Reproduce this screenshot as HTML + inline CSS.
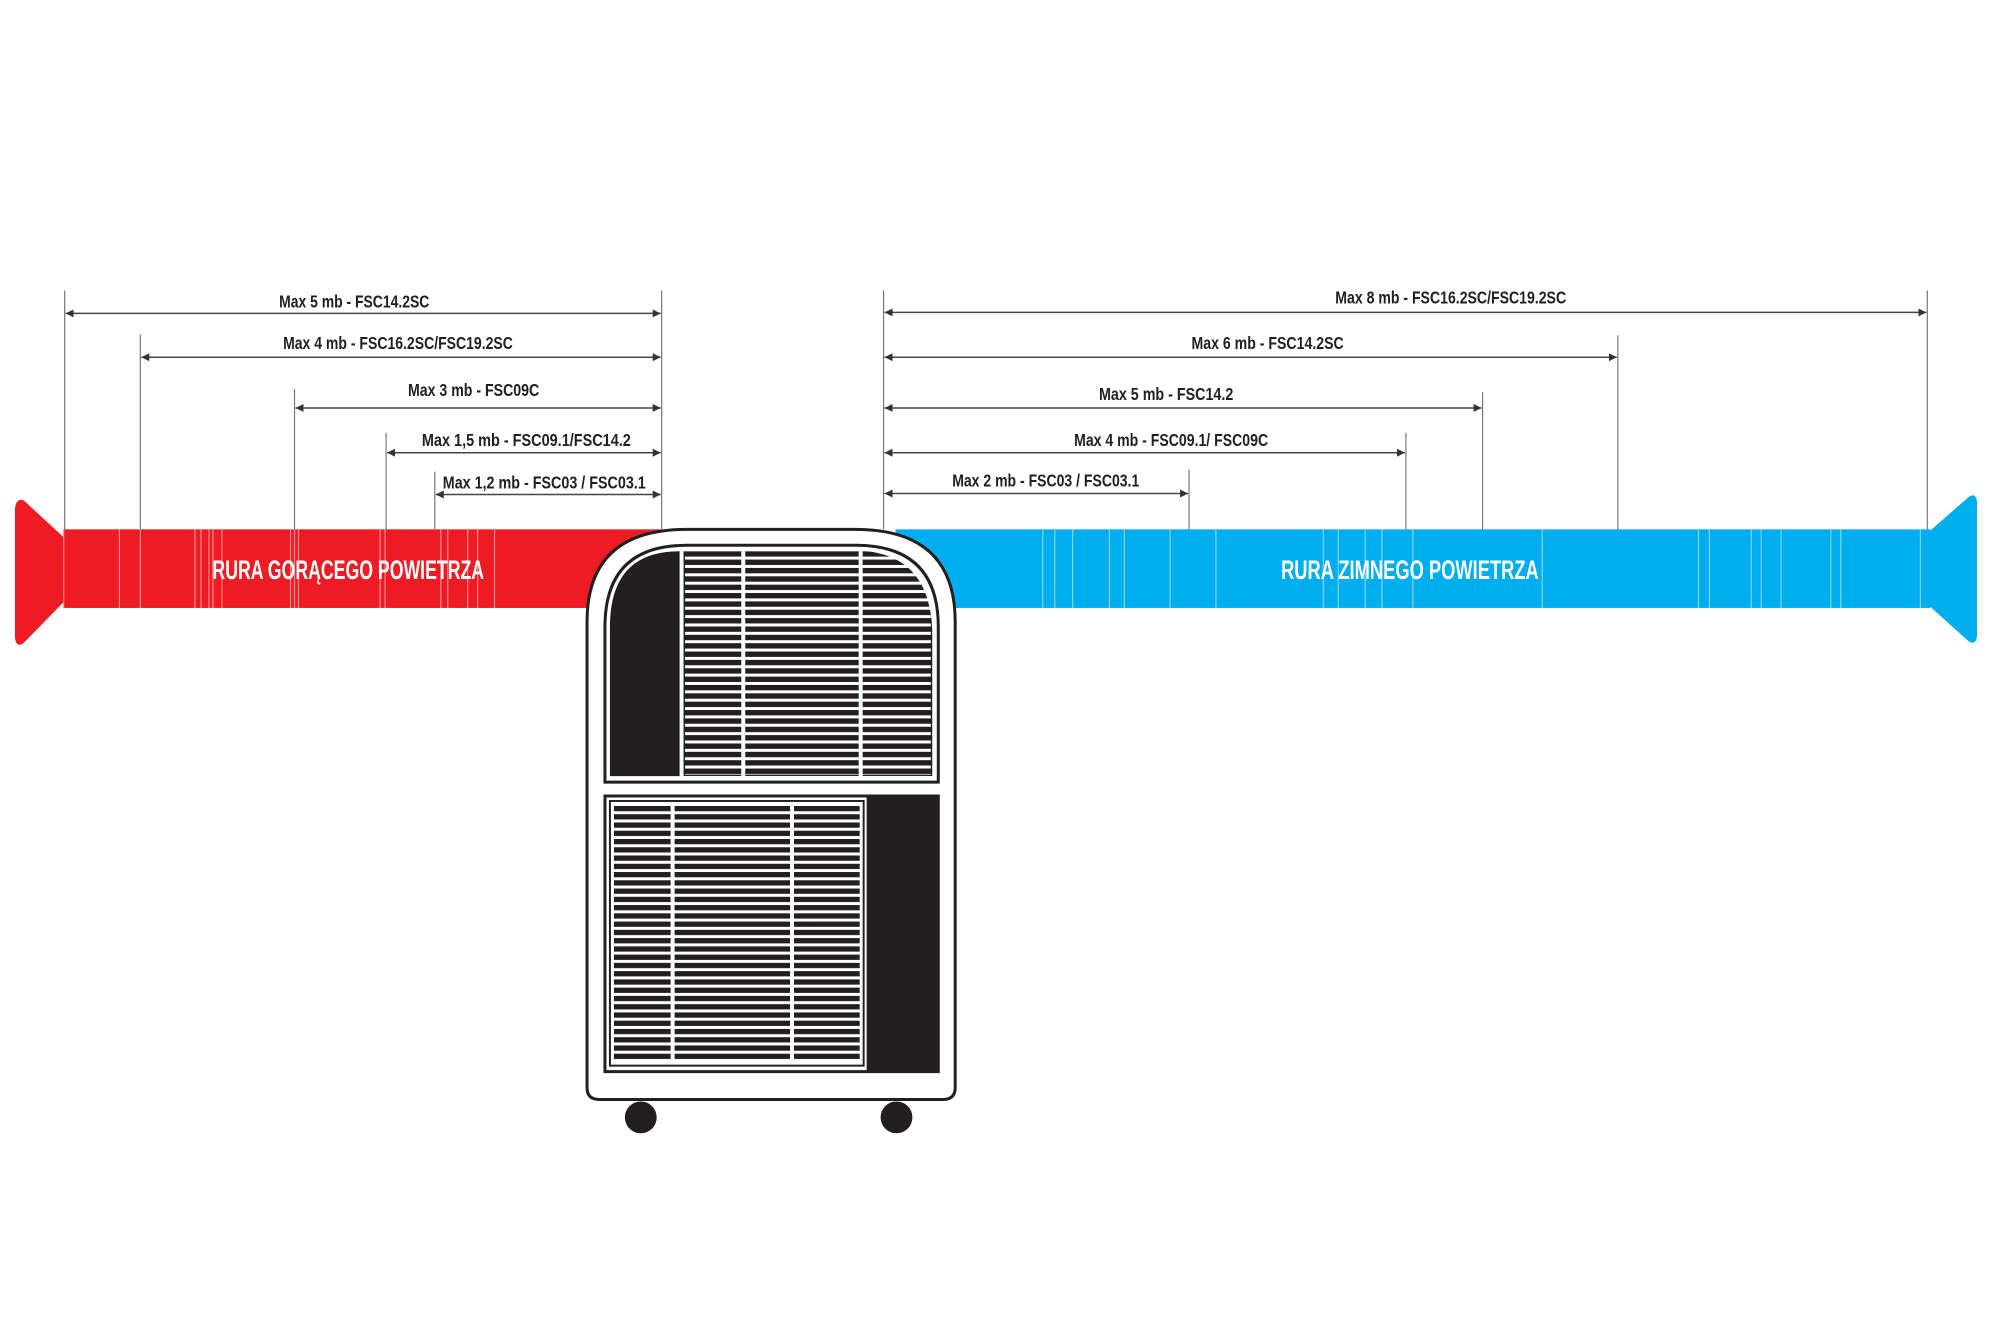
<!DOCTYPE html>
<html><head><meta charset="utf-8"><style>
html,body{margin:0;padding:0;background:#fff;width:2000px;height:1333px;overflow:hidden}
svg{display:block}
.t{font-family:"Liberation Sans",sans-serif;font-size:18px;font-weight:bold;fill:#231f20}
.p{font-family:"Liberation Sans",sans-serif;font-size:27px;font-weight:bold;fill:#fff}
</style></head><body>
<svg width="2000" height="1333" viewBox="0 0 2000 1333" xmlns="http://www.w3.org/2000/svg">
<defs>
<marker id="a" viewBox="0 0 10 10" refX="10" refY="5" markerWidth="8" markerHeight="8" orient="auto-start-reverse" markerUnits="userSpaceOnUse"><path d="M0,0 L10,5 L0,10 z" fill="#333"/></marker>
<pattern id="st" x="0" y="554" width="10" height="8.4" patternUnits="userSpaceOnUse"><rect width="10" height="5.4" fill="#231f20"/></pattern>
<pattern id="st2" x="0" y="810" width="10" height="8.3" patternUnits="userSpaceOnUse"><rect width="10" height="5.3" fill="#231f20"/></pattern>
<clipPath id="tc"><path d="M687,780 V554 H870 Q937,560 937,640 V780 Z"/></clipPath>
</defs>
<g transform="scale(0.995)">
<!-- red pipe -->
<path d="M15,512 Q16,500 24,503 L64,540 V605 L24,646 Q16,652 15,640 Z" fill="#ed1c24"/>
<rect x="64" y="532" width="600" height="79" fill="#ed1c24"/>
<g stroke="#ff8a8a" stroke-width="1.2">
<line x1="64" y1="532" x2="64" y2="611"/><line x1="120" y1="532" x2="120" y2="611"/><line x1="141" y1="532" x2="141" y2="611"/>
<line x1="196" y1="532" x2="196" y2="611"/><line x1="202" y1="532" x2="202" y2="611"/><line x1="210" y1="532" x2="210" y2="611"/>
<line x1="214" y1="532" x2="214" y2="611"/><line x1="223" y1="532" x2="223" y2="611"/><line x1="292" y1="532" x2="292" y2="611"/>
<line x1="296" y1="532" x2="296" y2="611"/><line x1="300" y1="532" x2="300" y2="611"/><line x1="382" y1="532" x2="382" y2="611"/>
<line x1="387" y1="532" x2="387" y2="611"/><line x1="443" y1="532" x2="443" y2="611"/><line x1="450" y1="532" x2="450" y2="611"/>
<line x1="470" y1="532" x2="470" y2="611"/><line x1="480" y1="532" x2="480" y2="611"/><line x1="497" y1="532" x2="497" y2="611"/>
</g>
<text class="p" x="350" y="582" text-anchor="middle" textLength="273" lengthAdjust="spacingAndGlyphs">RURA GORĄCEGO POWIETRZA</text>
<!-- blue pipe -->
<rect x="900" y="532" width="1040" height="79" fill="#00adef"/>
<path d="M1987,505 Q1986,494 1978,500 L1938,535 V608 L1978,644 Q1986,650 1987,638 Z" fill="#00adef"/>
<g stroke="#7fd6f7" stroke-width="1.2">
<line x1="1048" y1="532" x2="1048" y2="611"/><line x1="1060" y1="532" x2="1060" y2="611"/><line x1="1078" y1="532" x2="1078" y2="611"/>
<line x1="1115" y1="532" x2="1115" y2="611"/><line x1="1130" y1="532" x2="1130" y2="611"/><line x1="1176" y1="532" x2="1176" y2="611"/>
<line x1="1222" y1="532" x2="1222" y2="611"/><line x1="1330" y1="532" x2="1330" y2="611"/><line x1="1345" y1="532" x2="1345" y2="611"/>
<line x1="1372" y1="532" x2="1372" y2="611"/><line x1="1389" y1="532" x2="1389" y2="611"/><line x1="1420" y1="532" x2="1420" y2="611"/>
<line x1="1550" y1="532" x2="1550" y2="611"/><line x1="1707" y1="532" x2="1707" y2="611"/><line x1="1718" y1="532" x2="1718" y2="611"/>
<line x1="1760" y1="532" x2="1760" y2="611"/><line x1="1770" y1="532" x2="1770" y2="611"/><line x1="1790" y1="532" x2="1790" y2="611"/>
<line x1="1840" y1="532" x2="1840" y2="611"/><line x1="1850" y1="532" x2="1850" y2="611"/><line x1="1930" y1="532" x2="1930" y2="611"/>
</g>
<text class="p" x="1417" y="582" text-anchor="middle" textLength="259" lengthAdjust="spacingAndGlyphs">RURA ZIMNEGO POWIETRZA</text>
<!-- extension lines -->
<g stroke="#777" stroke-width="1.2">
<line x1="65" y1="292" x2="65" y2="532"/><line x1="141" y1="336" x2="141" y2="532"/><line x1="296" y1="391" x2="296" y2="532"/>
<line x1="388" y1="435" x2="388" y2="532"/><line x1="437" y1="474" x2="437" y2="532"/><line x1="665" y1="292" x2="665" y2="532"/>
<line x1="888" y1="292" x2="888" y2="532"/><line x1="1937" y1="292" x2="1937" y2="532"/><line x1="1626" y1="337" x2="1626" y2="532"/>
<line x1="1490" y1="394" x2="1490" y2="532"/><line x1="1413" y1="435" x2="1413" y2="532"/><line x1="1195" y1="472" x2="1195" y2="532"/>
</g>
<g stroke="#444" stroke-width="1.5" marker-start="url(#a)" marker-end="url(#a)">
<line x1="66" y1="315" x2="664" y2="315"/><line x1="142" y1="359" x2="664" y2="359"/><line x1="297" y1="410" x2="664" y2="410"/>
<line x1="389" y1="455" x2="664" y2="455"/><line x1="438" y1="497" x2="664" y2="497"/>
<line x1="889" y1="314" x2="1936" y2="314"/><line x1="889" y1="359" x2="1625" y2="359"/><line x1="889" y1="410" x2="1489" y2="410"/>
<line x1="889" y1="455" x2="1412" y2="455"/><line x1="889" y1="496" x2="1194" y2="496"/>
</g>
<g text-anchor="middle">
<text class="t" x="356" y="309" textLength="151" lengthAdjust="spacingAndGlyphs">Max 5 mb - FSC14.2SC</text>
<text class="t" x="400" y="351" textLength="231" lengthAdjust="spacingAndGlyphs">Max 4 mb - FSC16.2SC/FSC19.2SC</text>
<text class="t" x="476" y="398" textLength="132" lengthAdjust="spacingAndGlyphs">Max 3 mb - FSC09C</text>
<text class="t" x="529" y="448" textLength="210" lengthAdjust="spacingAndGlyphs">Max 1,5 mb - FSC09.1/FSC14.2</text>
<text class="t" x="547" y="491" textLength="204" lengthAdjust="spacingAndGlyphs">Max 1,2 mb - FSC03 / FSC03.1</text>
<text class="t" x="1458" y="305" textLength="232" lengthAdjust="spacingAndGlyphs">Max 8 mb - FSC16.2SC/FSC19.2SC</text>
<text class="t" x="1274" y="351" textLength="153" lengthAdjust="spacingAndGlyphs">Max 6 mb - FSC14.2SC</text>
<text class="t" x="1172" y="402" textLength="135" lengthAdjust="spacingAndGlyphs">Max 5 mb - FSC14.2</text>
<text class="t" x="1177" y="448" textLength="195" lengthAdjust="spacingAndGlyphs">Max 4 mb - FSC09.1/ FSC09C</text>
<text class="t" x="1051" y="489" textLength="188" lengthAdjust="spacingAndGlyphs">Max 2 mb - FSC03 / FSC03.1</text>
</g>
<!-- AC unit -->
<circle cx="644" cy="1123" r="16" fill="#231f20"/>
<circle cx="901" cy="1123" r="16" fill="#231f20"/>
<path d="M590,625 Q590,532 690,532 H860 Q960,532 960,625 V1093 Q960,1105 948,1105 H602 Q590,1105 590,1093 Z" fill="#fff" stroke="#231f20" stroke-width="3"/>
<path d="M608,786 V630 Q608,548 690,548 H860 Q943,548 943,630 V786 Z" fill="#fff" stroke="#231f20" stroke-width="3"/>
<path d="M613,780 V630 Q613,554 683,554 V780 Z" fill="#231f20"/>
<g clip-path="url(#tc)">
<rect x="687" y="554" width="250" height="226" fill="url(#st)"/>
<rect x="687" y="554" width="250" height="226" fill="none" stroke="#231f20" stroke-width="3"/>
</g>
<rect x="745" y="554" width="4" height="226" fill="#fff"/>
<rect x="863" y="554" width="4" height="226" fill="#fff"/>
<rect x="608" y="800" width="335" height="277" fill="#fff" stroke="#231f20" stroke-width="3"/>
<rect x="871" y="800" width="72" height="277" fill="#231f20"/>
<rect x="613" y="805" width="255" height="266" fill="#fff" stroke="#231f20" stroke-width="2"/>
<rect x="617" y="810" width="247" height="257" fill="url(#st2)"/>
<rect x="674" y="808" width="4" height="260" fill="#fff"/>
<rect x="794" y="808" width="4" height="260" fill="#fff"/>
</g>
</svg>
</body></html>
